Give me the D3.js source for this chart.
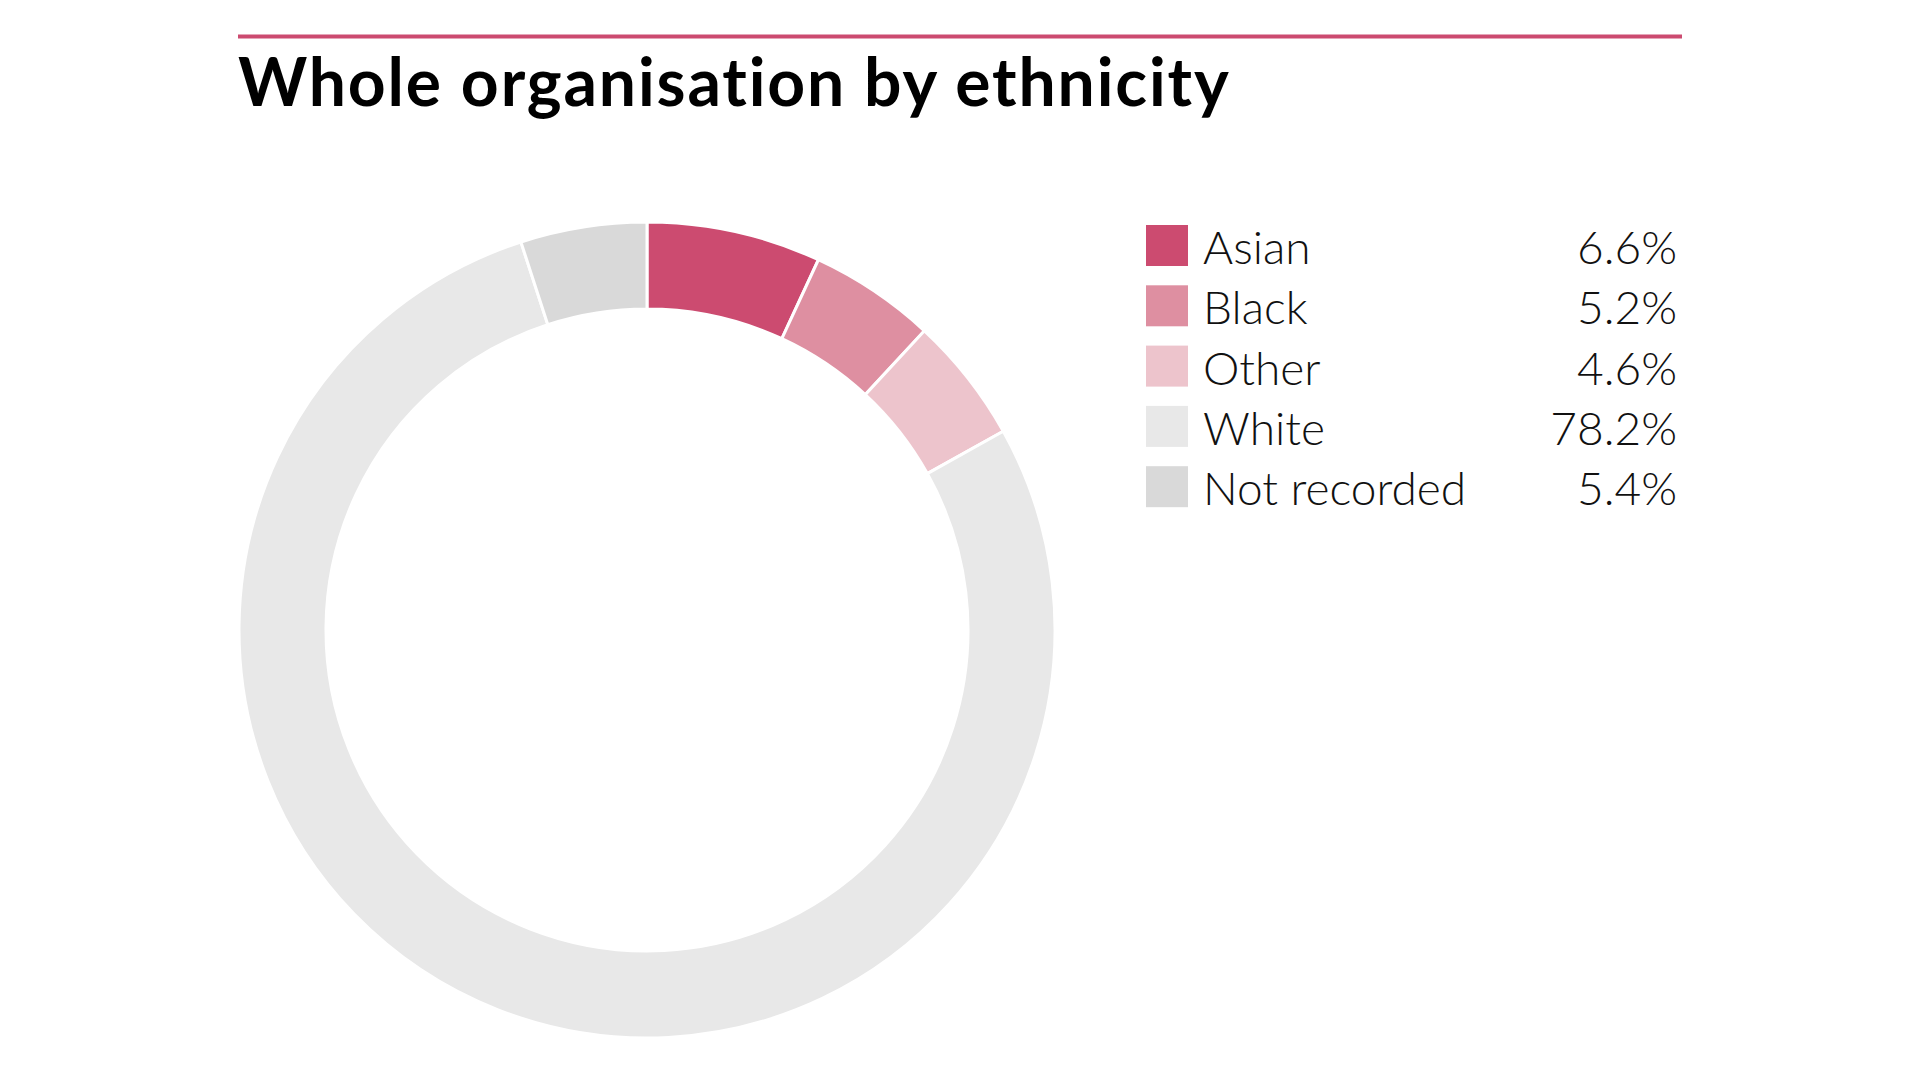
<!DOCTYPE html>
<html>
<head>
<meta charset="utf-8">
<script src="https://cdn.jsdelivr.net/npm/d3@7"></script>
<style>
    html, body { margin: 0; padding: 0; background: #ffffff; }
    svg { display: block; }
</style>
</head>
<body>
<div id="chart"></div>
<script>
// data
var categories = ['Asian', 'Black', 'Other', 'White', 'Not recorded'];
var valueLabels = ['6.6%', '5.2%', '4.6%', '78.2%', '5.4%'];
// share of the ring each slice takes, measured from the arcs in the picture
var arcShares = [6.9, 5.0, 5.0, 78.1, 5.0];
var sliceColours = ['#cc4b70', '#de8fa1', '#edc4cc', '#e8e8e8', '#d9d9d9'];

var gSettings = {
    width : 1920,
    height : 1080,
    accent : '#cc4b70',
    title : 'Whole organisation by ethnicity',
    titleWidth : 992
};

function bootstrap(){
    var svg = d3.select('#chart').append('svg')
        .attr('width', gSettings.width)
        .attr('height', gSettings.height);

    drawHeader(svg);
    drawDonut(svg);
    drawLegend(svg);
}

//---------------------------------------------------------------
function drawHeader(pSvg){
    pSvg.append('line')
        .attr('x1', 238).attr('x2', 1682)
        .attr('y1', 36.5).attr('y2', 36.5)
        .attr('stroke', gSettings.accent)
        .attr('stroke-width', 4);

    var title = pSvg.append('text')
        .attr('x', 238)
        .attr('y', 106)
        .attr('font-family', 'Lato, "Open Sans", sans-serif')
        .attr('font-weight', 700)
        .attr('font-size', 66)
        .attr('fill', '#000')
        .text(gSettings.title);

    //spread the letters so the title is as wide as in the picture
    var lWidth = title.node().getComputedTextLength();
    var lChars = gSettings.title.length;
    if(lWidth > 0 && lWidth < gSettings.titleWidth){
        title.attr('letter-spacing', (gSettings.titleWidth - lWidth) / (lChars - 1));
    }
}

//---------------------------------------------------------------
function drawDonut(pSvg){
    var cx = 647, cy = 630;

    var pie = d3.pie()
        .sort(null)
        .value(function(d){ return d; });

    var arc = d3.arc()
        .innerRadius(321)
        .outerRadius(408);

    var g = pSvg.append('g')
        .attr('transform', 'translate(' + cx + ',' + cy + ')');

    g.selectAll('path')
        .data(pie(arcShares))
        .enter().append('path')
        .attr('d', arc)
        .attr('fill', function(d, i){ return sliceColours[i]; })
        .attr('stroke', '#ffffff')
        .attr('stroke-width', 3);
}

//---------------------------------------------------------------
function drawLegend(pSvg){
    var y = d3.scaleBand()
        .domain(categories)
        .range([225, 225 + 60.3 * categories.length]);

    var rows = pSvg.append('g').selectAll('g')
        .data(categories)
        .enter().append('g')
        .attr('transform', function(d){ return 'translate(0,' + y(d) + ')'; });

    rows.append('rect')
        .attr('x', 1146)
        .attr('y', 0)
        .attr('width', 42)
        .attr('height', 41)
        .attr('fill', function(d, i){ return sliceColours[i]; });

    rows.append('text')
        .attr('x', 1203)
        .attr('y', 39)
        .attr('font-family', 'Lato, "Open Sans", sans-serif')
        .attr('font-weight', 300)
        .attr('font-size', 46)
        .attr('fill', '#111')
        .text(function(d){ return d; });

    rows.append('text')
        .attr('x', 1677)
        .attr('y', 39)
        .attr('text-anchor', 'end')
        .attr('font-family', 'Lato, "Open Sans", sans-serif')
        .attr('font-weight', 300)
        .attr('font-size', 46)
        .attr('fill', '#111')
        .text(function(d, i){ return valueLabels[i]; });
}

bootstrap();
</script>
</body>
</html>
